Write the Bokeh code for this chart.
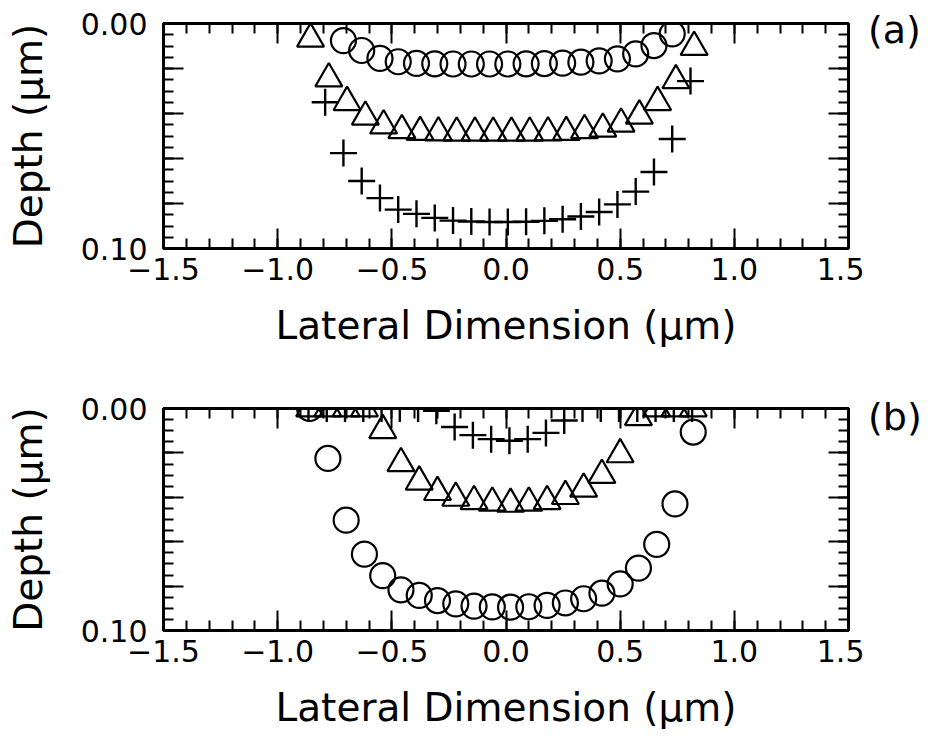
from bokeh.plotting import figure
from bokeh.layouts import column, row
from bokeh.models import Range1d, FixedTicker, LinearAxis, Div, CustomLabelingPolicy
from bokeh.embed import file_html
from bokeh.resources import INLINE

# ---------------- data: panel (a) ----------------
a_circle_x = [-0.712, -0.632, -0.552, -0.472, -0.392, -0.312, -0.232, -0.152, -0.072, 0.008,
              0.088, 0.168, 0.248, 0.328, 0.408, 0.488, 0.568, 0.648, 0.728]
a_circle_depth = [0.0076, 0.0120, 0.0155, 0.0170, 0.0177, 0.0179, 0.0180, 0.0180, 0.0180, 0.0180,
                  0.0179, 0.0178, 0.0176, 0.0172, 0.0166, 0.0157, 0.0135, 0.0098, 0.0046]

a_tri_x = [-0.856, -0.776, -0.696, -0.616, -0.536, -0.456, -0.376, -0.296, -0.216, -0.136, -0.056,
           0.024, 0.104, 0.184, 0.264, 0.344, 0.424, 0.504, 0.584, 0.664, 0.744, 0.824]
a_tri_depth = [0.0068, 0.0245, 0.0350, 0.0415, 0.0454, 0.0475, 0.0483, 0.0485, 0.0486, 0.0486, 0.0486,
               0.0486, 0.0486, 0.0485, 0.0483, 0.0475, 0.0468, 0.0446, 0.0410, 0.0350, 0.0253, 0.0105]

a_plus_x = [-0.792, -0.712, -0.632, -0.552, -0.472, -0.392, -0.312, -0.232, -0.152, -0.072, 0.008,
            0.088, 0.168, 0.248, 0.328, 0.408, 0.488, 0.568, 0.648, 0.728, 0.808]
a_plus_depth = [0.0350, 0.0576, 0.0700, 0.0776, 0.0827, 0.0846, 0.0864, 0.0876, 0.0880, 0.0882, 0.0882,
                0.0881, 0.0877, 0.0870, 0.0858, 0.0838, 0.0804, 0.0747, 0.0660, 0.0513, 0.0256]

# ---------------- data: panel (b) ----------------
b_circle_x = [-0.86, -0.78, -0.70, -0.62, -0.54, -0.46, -0.38, -0.30, -0.22, -0.14, -0.06,
              0.02, 0.10, 0.18, 0.26, 0.34, 0.42, 0.50, 0.58, 0.66, 0.74, 0.82]
b_circle_depth = [0.0, 0.0225, 0.0503, 0.0656, 0.0753, 0.0817, 0.0842, 0.0865, 0.0880, 0.0890, 0.0894,
                  0.0895, 0.0893, 0.0887, 0.0876, 0.0857, 0.0832, 0.0790, 0.0719, 0.0612, 0.0430, 0.0106]

b_tri_x = [-0.86, -0.78, -0.70, -0.62, -0.54, -0.46, -0.38, -0.30, -0.22, -0.14, -0.06,
           0.02, 0.10, 0.18, 0.26, 0.34, 0.42, 0.50, 0.58, 0.66, 0.74, 0.82]
b_tri_depth = [0.0, 0.0, 0.0, 0.0, 0.0098, 0.0247, 0.0330, 0.0377, 0.0403, 0.0418, 0.0425,
               0.0430, 0.0425, 0.0418, 0.0395, 0.0362, 0.0300, 0.0207, 0.0040, 0.0, 0.0, 0.0]

b_plus_x = [-0.865, -0.785, -0.705, -0.625, -0.545, -0.465, -0.385, -0.305, -0.225, -0.145, -0.065,
            0.015, 0.095, 0.175, 0.255, 0.335, 0.415, 0.495, 0.575, 0.655, 0.735, 0.815]
b_plus_depth = [0.0, 0.0, 0.0, 0.0, 0.0, 0.0, 0.0, 0.0010, 0.0083, 0.0120, 0.0138,
                0.0145, 0.0138, 0.0110, 0.0054, 0.0, 0.0, 0.0, 0.0, 0.0, 0.0, 0.0]

# ---------------- ticks ----------------
x_major = [-1.5, -1.0, -0.5, 0.0, 0.5, 1.0, 1.5]
x_labels = ["\u22121.5", "\u22121.0", "\u22120.5", "0.0", "0.5", "1.0", "1.5"]
x_minor = [-1.5, -1.4, -1.3, -1.2, -1.1, -1.0, -0.9, -0.8, -0.7, -0.6, -0.5, -0.4, -0.3, -0.2, -0.1, 0.0,
           0.1, 0.2, 0.3, 0.4, 0.5, 0.6, 0.7, 0.8, 0.9, 1.0, 1.1, 1.2, 1.3, 1.4, 1.5]
y_major = [0.0, 0.02, 0.04, 0.06, 0.08, 0.10]
y_labels = ["0.00", "", "", "", "", "0.10"]
y_minor = [0.0, 0.005, 0.01, 0.015, 0.02, 0.025, 0.03, 0.035, 0.04, 0.045, 0.05,
           0.055, 0.06, 0.065, 0.07, 0.075, 0.08, 0.085, 0.09, 0.095, 0.10]

FONT = "DejaVu Sans"
TICK_FS = "30px"
LABEL_FS = "39px"

NO_LABELS = "for (const i of indices) { indices.unset(i) }\nreturn indices"
ENDS_ONLY = "for (const i of indices) { if (i != 0 && i != 5) indices.unset(i) }\nreturn indices"


def style_axis(ax, show_labels):
    ax.axis_line_color = "black"
    ax.axis_line_width = 3
    ax.major_tick_line_color = "black"
    ax.minor_tick_line_color = "black"
    ax.major_tick_line_width = 2
    ax.minor_tick_line_width = 2
    ax.major_tick_in = 20
    ax.major_tick_out = 0
    ax.minor_tick_in = 10
    ax.minor_tick_out = 0
    ax.major_label_text_font = FONT
    ax.major_label_text_color = "black"
    ax.axis_label_text_font = FONT
    ax.axis_label_text_font_style = "normal"
    ax.axis_label_text_color = "black"
    ax.axis_label_text_font_size = LABEL_FS
    if show_labels:
        ax.major_label_text_font_size = TICK_FS
    else:
        ax.major_label_text_font_size = "1px"
        ax.major_label_standoff = 0
        ax.major_label_policy = CustomLabelingPolicy(code=NO_LABELS)


def panel(cx, cy, tx, ty, px, py, height, top, bottom):
    p = figure(width=864, height=height,
               x_range=Range1d(-1.5, 1.5), y_range=Range1d(0.10, 0.0),
               output_backend="svg", toolbar_location=None,
               min_border_left=163, min_border_right=16,
               min_border_top=top, min_border_bottom=bottom,
               x_axis_label="Lateral Dimension (\u03bcm)", y_axis_label="Depth (\u03bcm)")
    p.grid.visible = False
    p.outline_line_color = "black"
    p.outline_line_width = 3
    p.background_fill_color = "white"
    p.border_fill_color = "white"

    xa = p.xaxis[0]
    xa.ticker = FixedTicker(ticks=x_major, minor_ticks=x_minor)
    xa.major_label_overrides = {v: s for v, s in zip(x_major, x_labels)}
    style_axis(xa, True)
    xa.major_label_standoff = 9
    xa.axis_label_standoff = 20

    ya = p.yaxis[0]
    ya.ticker = FixedTicker(ticks=y_major, minor_ticks=y_minor)
    ya.major_label_overrides = {v: s for v, s in zip(y_major, y_labels)}
    ya.major_label_policy = CustomLabelingPolicy(code=ENDS_ONLY)
    style_axis(ya, True)
    ya.major_label_standoff = 16
    ya.axis_label_standoff = 27

    top_ax = LinearAxis(ticker=FixedTicker(ticks=x_major, minor_ticks=x_minor))
    style_axis(top_ax, False)
    p.add_layout(top_ax, "above")
    right_ax = LinearAxis(ticker=FixedTicker(ticks=y_major, minor_ticks=y_minor))
    style_axis(right_ax, False)
    p.add_layout(right_ax, "right")

    p.scatter(cx, cy, marker="circle", size=25, fill_color=None,
              line_color="black", line_width=2.2)
    p.scatter(tx, ty, marker="triangle", size=27, fill_color=None,
              line_color="black", line_width=2.2)
    p.scatter(px, py, marker="cross", size=27,
              line_color="black", line_width=2.4)
    return p


def tag_div(text, height, pad_top):
    return Div(text=text, width=56, height=height, margin=0,
               styles={"font-family": FONT, "font-size": "38px", "line-height": "1",
                       "padding-top": f"{pad_top}px", "padding-left": "4px",
                       "color": "black", "white-space": "nowrap"})


pa = panel(a_circle_x, a_circle_depth, a_tri_x, a_tri_depth, a_plus_x, a_plus_depth,
           360, 23, 112)
pb = panel(b_circle_x, b_circle_depth, b_tri_x, b_tri_depth, b_plus_x, b_plus_depth,
           372, 48, 100)

layout = column(row(pa, tag_div("(a)", 360, 11), spacing=0),
                row(pb, tag_div("(b)", 372, 38), spacing=0), spacing=0)
open("out.html", "w").write(file_html(layout, INLINE))
